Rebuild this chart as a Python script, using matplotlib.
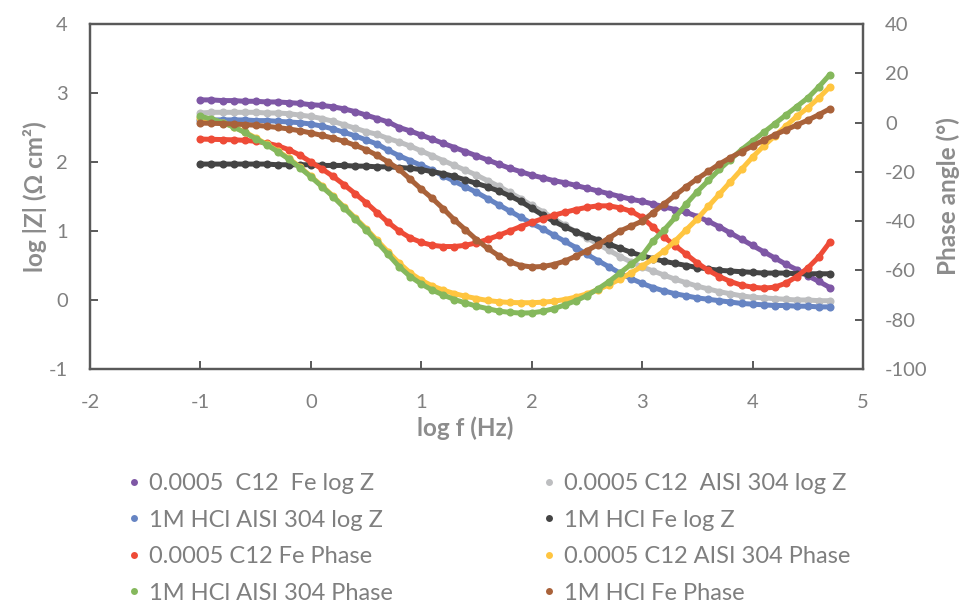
import matplotlib
matplotlib.use("Agg")
import matplotlib.pyplot as plt
from matplotlib.lines import Line2D

plt.rcParams['font.family'] = ['Lato', 'DejaVu Sans']
plt.rcParams['axes.unicode_minus'] = False

log_f = [-1.0, -0.9, -0.8, -0.7, -0.6, -0.5, -0.4, -0.3, -0.2, -0.1,
         0.0, 0.1, 0.2, 0.3, 0.4, 0.5, 0.6, 0.7, 0.8, 0.9,
         1.0, 1.1, 1.2, 1.3, 1.4, 1.5, 1.6, 1.7, 1.8, 1.9,
         2.0, 2.1, 2.2, 2.3, 2.4, 2.5, 2.6, 2.7, 2.8, 2.9,
         3.0, 3.1, 3.2, 3.3, 3.4, 3.5, 3.6, 3.7, 3.8, 3.9,
         4.0, 4.1, 4.2, 4.3, 4.4, 4.5, 4.6, 4.7]

# log |Z| series
c12_fe_logz = [2.90, 2.90, 2.89, 2.89, 2.88, 2.88, 2.87, 2.87, 2.86, 2.85,
               2.83, 2.82, 2.80, 2.77, 2.73, 2.68, 2.63, 2.58, 2.50, 2.45,
               2.39, 2.33, 2.27, 2.21, 2.15, 2.09, 2.03, 1.97, 1.91, 1.86,
               1.81, 1.77, 1.73, 1.70, 1.66, 1.62, 1.58, 1.54, 1.50, 1.46,
               1.43, 1.39, 1.35, 1.31, 1.27, 1.21, 1.14, 1.06, 0.97, 0.88,
               0.79, 0.70, 0.61, 0.52, 0.44, 0.35, 0.27, 0.18]
c12_304_logz = [2.71, 2.72, 2.72, 2.72, 2.72, 2.72, 2.71, 2.71, 2.70, 2.68,
                2.66, 2.63, 2.59, 2.54, 2.49, 2.44, 2.40, 2.34, 2.29, 2.23,
                2.16, 2.09, 2.02, 1.95, 1.88, 1.81, 1.73, 1.65, 1.56, 1.47,
                1.37, 1.28, 1.18, 1.08, 0.99, 0.90, 0.81, 0.72, 0.63, 0.55,
                0.48, 0.42, 0.36, 0.30, 0.25, 0.20, 0.16, 0.12, 0.09, 0.06,
                0.04, 0.03, 0.02, 0.01, 0.00, 0.00, -0.01, -0.01]
hcl_304_logz = [2.61, 2.61, 2.61, 2.61, 2.61, 2.60, 2.60, 2.59, 2.58, 2.57,
                2.55, 2.52, 2.48, 2.43, 2.38, 2.32, 2.26, 2.17, 2.09, 2.02,
                1.95, 1.88, 1.80, 1.72, 1.64, 1.56, 1.47, 1.38, 1.29, 1.20,
                1.11, 1.03, 0.94, 0.85, 0.76, 0.66, 0.57, 0.48, 0.39, 0.31,
                0.24, 0.18, 0.13, 0.09, 0.06, 0.03, 0.01, -0.01, -0.03, -0.05,
                -0.06, -0.07, -0.08, -0.08, -0.09, -0.09, -0.10, -0.10]
hcl_fe_logz = [1.97, 1.97, 1.97, 1.97, 1.97, 1.97, 1.97, 1.96, 1.96, 1.96,
               1.96, 1.95, 1.95, 1.95, 1.94, 1.94, 1.93, 1.93, 1.92, 1.91,
               1.89, 1.86, 1.83, 1.79, 1.74, 1.69, 1.64, 1.58, 1.51, 1.43,
               1.33, 1.23, 1.14, 1.06, 0.99, 0.93, 0.87, 0.81, 0.75, 0.69,
               0.64, 0.60, 0.56, 0.53, 0.50, 0.47, 0.45, 0.43, 0.42, 0.41,
               0.40, 0.39, 0.39, 0.39, 0.38, 0.38, 0.38, 0.38]

# Phase series (degrees)
c12_fe_phase = [-6.7, -6.8, -6.9, -7.0, -7.2, -7.6, -8.3, -9.4, -11.0, -13.2,
                -16.0, -18.8, -21.8, -25.2, -28.8, -32.5, -36.5, -40.5, -44.0, -46.8,
                -48.6, -49.8, -50.3, -50.3, -49.8, -48.8, -47.4, -45.8, -44.0, -42.2,
                -40.5, -39.0, -37.6, -36.4, -35.3, -34.4, -33.8, -33.8, -34.6, -36.0,
                -38.5, -42.5, -46.5, -50.0, -53.5, -57.0, -60.0, -62.5, -64.5, -66.0,
                -66.8, -67.2, -66.8, -65.2, -62.5, -59.0, -54.5, -48.5]
c12_304_phase = [2.0, 1.2, 0.0, -1.7, -3.8, -6.2, -8.8, -11.5, -14.5, -18.0,
                 -21.8, -25.7, -29.8, -34.2, -38.6, -43.0, -47.8, -52.5, -57.0, -61.0,
                 -64.0, -66.3, -68.0, -69.4, -70.5, -71.4, -72.2, -72.7, -73.0, -73.1,
                 -73.1, -72.9, -72.5, -71.8, -70.8, -69.5, -67.8, -65.8, -63.5, -61.0,
                 -58.3, -55.3, -52.0, -48.0, -43.5, -39.0, -34.0, -29.0, -24.0, -19.0,
                 -14.0, -9.5, -5.5, -1.5, 2.5, 6.0, 10.0, 14.5]
hcl_304_phase = [2.5, 1.5, 0.0, -1.8, -4.0, -6.5, -9.0, -11.8, -14.8, -18.3,
                 -22.0, -26.0, -30.0, -34.5, -39.0, -43.5, -48.5, -53.5, -58.5, -62.5,
                 -65.5, -68.0, -70.0, -71.8, -73.2, -74.5, -75.5, -76.5, -77.0, -77.3,
                 -77.2, -76.6, -75.5, -74.0, -72.3, -70.2, -67.5, -64.5, -61.0, -57.5,
                 -54.0, -48.0, -43.5, -38.5, -33.0, -28.0, -23.5, -19.0, -15.0, -11.0,
                 -7.5, -4.0, -0.5, 3.0, 6.5, 10.0, 14.5, 19.5]
hcl_fe_phase = [-0.2, -0.3, -0.4, -0.6, -0.8, -1.1, -1.5, -2.0, -2.6, -3.3,
                -4.2, -5.2, -6.3, -7.6, -9.2, -11.0, -13.3, -16.0, -19.0, -23.0,
                -27.0, -30.8, -35.0, -39.5, -43.5, -47.5, -51.0, -54.0, -56.5, -58.0,
                -58.6, -58.4, -57.6, -56.2, -54.2, -52.0, -49.5, -46.8, -44.0, -42.0,
                -40.0, -36.5, -33.0, -29.5, -26.0, -22.8, -19.8, -16.8, -14.2, -11.8,
                -9.5, -7.2, -5.0, -3.0, -1.0, 1.0, 3.2, 5.6]

labels = ["0.0005  C12  Fe log Z", "0.0005 C12  AISI 304 log Z",
          "1M HCl AISI 304 log Z", "1M HCl Fe log Z",
          "0.0005 C12 Fe Phase", "0.0005 C12 AISI 304 Phase",
          "1M HCl AISI 304 Phase", "1M HCl Fe Phase"]
colors = ['#7E57A5', '#BDBEC0', '#6684C3', '#444444',
          '#EE4B37', '#FFC540', '#85B85C', '#A9623A']

x_ticks = [-2, -1, 0, 1, 2, 3, 4, 5]
z_ticks = [-1, 0, 1, 2, 3, 4]
p_ticks = [-100, -80, -60, -40, -20, 0, 20, 40]

W, H = 965, 603
fig = plt.figure(figsize=(W / 100, H / 100), dpi=100)
ax = fig.add_axes([90 / W, 1 - 369 / H, (863 - 90) / W, (369 - 24) / H])
ax2 = ax.twinx()

spine_c = '#595959'
tick_c = '#808080'

def draw(a, y, c):
    a.plot(log_f, y, color=c, lw=3.6, marker='o', ms=5.8, mec='none',
           solid_capstyle='round', zorder=3)

for y, c in zip([c12_fe_logz, c12_304_logz, hcl_304_logz, hcl_fe_logz], colors[:4]):
    draw(ax, y, c)
for y, c in zip([c12_fe_phase, c12_304_phase, hcl_304_phase, hcl_fe_phase], colors[4:]):
    draw(ax2, y, c)

ax.set_xlim(-2, 5)
ax.set_ylim(-1, 4)
ax2.set_ylim(-100, 40)
ax.set_xticks(x_ticks)
ax.set_yticks(z_ticks)
ax2.set_yticks(p_ticks)

for a in (ax, ax2):
    for s in a.spines.values():
        s.set_color(spine_c)
        s.set_linewidth(1.6)
ax.tick_params(axis='both', direction='in', length=6, width=1.4, color=spine_c,
               labelcolor=tick_c, labelsize=14.5)
ax.tick_params(axis='x', pad=18)
ax.tick_params(axis='y', pad=16)
ax2.tick_params(axis='y', direction='in', length=6, width=1.4, color=spine_c,
                labelcolor=tick_c, labelsize=14.5, pad=16)

lab_kw = dict(color='#8C8C8C', fontsize=17.5, fontweight='bold')
ax.set_xlabel('log f (Hz)', **lab_kw)
ax.xaxis.set_label_coords(0.485, -0.136)
ax.set_ylabel('log |Z| (Ω cm²)', labelpad=1, **lab_kw)
ax2.set_ylabel('Phase angle (°)', labelpad=6, **lab_kw)

def handle(c):
    return Line2D([], [], ls='', marker='o', ms=5, color=c, mec='none')

order_left = [0, 2, 4, 6]
order_right = [1, 3, 5, 7]
for order, xpos in ((order_left, 128 / W), (order_right, 543 / W)):
    fig.legend([handle(colors[i]) for i in order], [labels[i] for i in order],
               loc='upper left', bbox_to_anchor=(xpos, 1 - 473 / H),
               frameon=False, fontsize=17, labelcolor='#7F7F7F',
               handlelength=0.5, handletextpad=0.4, labelspacing=0.66,
               borderpad=0, borderaxespad=0)

fig.savefig('out.png', dpi=100)
